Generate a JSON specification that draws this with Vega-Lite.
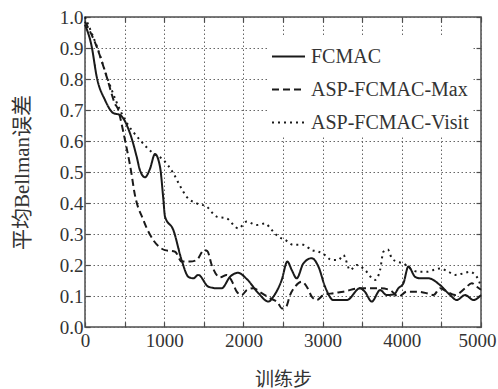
{
  "$schema": "https://vega.github.io/schema/vega-lite/v6.json",
  "width": 396,
  "height": 310,
  "autosize": {"type": "none"},
  "padding": {"left": 85, "top": 17, "right": 17, "bottom": 62},
  "background": "white",
  "config": {
    "view": {"stroke": "#4d4d4d", "strokeWidth": 1.5},
    "font": "Liberation Serif"
  },
  "datasets": {
    "curves": [
      {"series": "FCMAC", "step": 0, "err": 0.975},
      {"series": "FCMAC", "step": 85, "err": 0.904},
      {"series": "FCMAC", "step": 148, "err": 0.807},
      {"series": "FCMAC", "step": 253, "err": 0.732},
      {"series": "FCMAC", "step": 358, "err": 0.69},
      {"series": "FCMAC", "step": 442, "err": 0.684},
      {"series": "FCMAC", "step": 568, "err": 0.625},
      {"series": "FCMAC", "step": 653, "err": 0.549},
      {"series": "FCMAC", "step": 695, "err": 0.505},
      {"series": "FCMAC", "step": 758, "err": 0.483},
      {"series": "FCMAC", "step": 820, "err": 0.51},
      {"series": "FCMAC", "step": 884, "err": 0.558},
      {"series": "FCMAC", "step": 947, "err": 0.517},
      {"series": "FCMAC", "step": 990, "err": 0.41},
      {"series": "FCMAC", "step": 1010, "err": 0.356},
      {"series": "FCMAC", "step": 1115, "err": 0.313},
      {"series": "FCMAC", "step": 1220, "err": 0.216},
      {"series": "FCMAC", "step": 1305, "err": 0.162},
      {"series": "FCMAC", "step": 1368, "err": 0.157},
      {"series": "FCMAC", "step": 1431, "err": 0.168},
      {"series": "FCMAC", "step": 1558, "err": 0.13},
      {"series": "FCMAC", "step": 1663, "err": 0.125},
      {"series": "FCMAC", "step": 1726, "err": 0.125},
      {"series": "FCMAC", "step": 1831, "err": 0.162},
      {"series": "FCMAC", "step": 1930, "err": 0.175},
      {"series": "FCMAC", "step": 2042, "err": 0.155},
      {"series": "FCMAC", "step": 2189, "err": 0.109},
      {"series": "FCMAC", "step": 2315, "err": 0.082},
      {"series": "FCMAC", "step": 2378, "err": 0.098},
      {"series": "FCMAC", "step": 2484, "err": 0.152},
      {"series": "FCMAC", "step": 2555, "err": 0.211},
      {"series": "FCMAC", "step": 2610, "err": 0.184},
      {"series": "FCMAC", "step": 2673, "err": 0.157},
      {"series": "FCMAC", "step": 2757, "err": 0.205},
      {"series": "FCMAC", "step": 2863, "err": 0.222},
      {"series": "FCMAC", "step": 2947, "err": 0.195},
      {"series": "FCMAC", "step": 3031, "err": 0.13},
      {"series": "FCMAC", "step": 3136, "err": 0.087},
      {"series": "FCMAC", "step": 3305, "err": 0.087},
      {"series": "FCMAC", "step": 3473, "err": 0.125},
      {"series": "FCMAC", "step": 3530, "err": 0.115},
      {"series": "FCMAC", "step": 3621, "err": 0.082},
      {"series": "FCMAC", "step": 3726, "err": 0.119},
      {"series": "FCMAC", "step": 3810, "err": 0.103},
      {"series": "FCMAC", "step": 3900, "err": 0.105},
      {"series": "FCMAC", "step": 3957, "err": 0.125},
      {"series": "FCMAC", "step": 4020, "err": 0.141},
      {"series": "FCMAC", "step": 4083, "err": 0.195},
      {"series": "FCMAC", "step": 4168, "err": 0.162},
      {"series": "FCMAC", "step": 4231, "err": 0.157},
      {"series": "FCMAC", "step": 4336, "err": 0.157},
      {"series": "FCMAC", "step": 4484, "err": 0.135},
      {"series": "FCMAC", "step": 4610, "err": 0.103},
      {"series": "FCMAC", "step": 4694, "err": 0.087},
      {"series": "FCMAC", "step": 4799, "err": 0.103},
      {"series": "FCMAC", "step": 4905, "err": 0.087},
      {"series": "FCMAC", "step": 5000, "err": 0.103},

      {"series": "ASP-FCMAC-Max", "step": 0, "err": 0.985},
      {"series": "ASP-FCMAC-Max", "step": 148, "err": 0.904},
      {"series": "ASP-FCMAC-Max", "step": 274, "err": 0.807},
      {"series": "ASP-FCMAC-Max", "step": 379, "err": 0.72},
      {"series": "ASP-FCMAC-Max", "step": 421, "err": 0.7},
      {"series": "ASP-FCMAC-Max", "step": 442, "err": 0.678},
      {"series": "ASP-FCMAC-Max", "step": 505, "err": 0.603},
      {"series": "ASP-FCMAC-Max", "step": 590, "err": 0.49},
      {"series": "ASP-FCMAC-Max", "step": 620, "err": 0.44},
      {"series": "ASP-FCMAC-Max", "step": 737, "err": 0.345},
      {"series": "ASP-FCMAC-Max", "step": 863, "err": 0.28},
      {"series": "ASP-FCMAC-Max", "step": 1010, "err": 0.248},
      {"series": "ASP-FCMAC-Max", "step": 1137, "err": 0.243},
      {"series": "ASP-FCMAC-Max", "step": 1221, "err": 0.211},
      {"series": "ASP-FCMAC-Max", "step": 1326, "err": 0.211},
      {"series": "ASP-FCMAC-Max", "step": 1410, "err": 0.216},
      {"series": "ASP-FCMAC-Max", "step": 1503, "err": 0.248},
      {"series": "ASP-FCMAC-Max", "step": 1545, "err": 0.245},
      {"series": "ASP-FCMAC-Max", "step": 1600, "err": 0.2},
      {"series": "ASP-FCMAC-Max", "step": 1705, "err": 0.16},
      {"series": "ASP-FCMAC-Max", "step": 1790, "err": 0.168},
      {"series": "ASP-FCMAC-Max", "step": 1850, "err": 0.15},
      {"series": "ASP-FCMAC-Max", "step": 1916, "err": 0.114},
      {"series": "ASP-FCMAC-Max", "step": 1979, "err": 0.103},
      {"series": "ASP-FCMAC-Max", "step": 2042, "err": 0.119},
      {"series": "ASP-FCMAC-Max", "step": 2126, "err": 0.125},
      {"series": "ASP-FCMAC-Max", "step": 2231, "err": 0.109},
      {"series": "ASP-FCMAC-Max", "step": 2336, "err": 0.093},
      {"series": "ASP-FCMAC-Max", "step": 2442, "err": 0.076},
      {"series": "ASP-FCMAC-Max", "step": 2484, "err": 0.06},
      {"series": "ASP-FCMAC-Max", "step": 2539, "err": 0.065},
      {"series": "ASP-FCMAC-Max", "step": 2589, "err": 0.103},
      {"series": "ASP-FCMAC-Max", "step": 2652, "err": 0.13},
      {"series": "ASP-FCMAC-Max", "step": 2736, "err": 0.146},
      {"series": "ASP-FCMAC-Max", "step": 2800, "err": 0.13},
      {"series": "ASP-FCMAC-Max", "step": 2863, "err": 0.098},
      {"series": "ASP-FCMAC-Max", "step": 2926, "err": 0.087},
      {"series": "ASP-FCMAC-Max", "step": 3010, "err": 0.103},
      {"series": "ASP-FCMAC-Max", "step": 3136, "err": 0.109},
      {"series": "ASP-FCMAC-Max", "step": 3262, "err": 0.114},
      {"series": "ASP-FCMAC-Max", "step": 3473, "err": 0.125},
      {"series": "ASP-FCMAC-Max", "step": 3726, "err": 0.125},
      {"series": "ASP-FCMAC-Max", "step": 3852, "err": 0.119},
      {"series": "ASP-FCMAC-Max", "step": 3957, "err": 0.098},
      {"series": "ASP-FCMAC-Max", "step": 4063, "err": 0.114},
      {"series": "ASP-FCMAC-Max", "step": 4189, "err": 0.114},
      {"series": "ASP-FCMAC-Max", "step": 4315, "err": 0.109},
      {"series": "ASP-FCMAC-Max", "step": 4400, "err": 0.103},
      {"series": "ASP-FCMAC-Max", "step": 4484, "err": 0.125},
      {"series": "ASP-FCMAC-Max", "step": 4568, "err": 0.114},
      {"series": "ASP-FCMAC-Max", "step": 4673, "err": 0.103},
      {"series": "ASP-FCMAC-Max", "step": 4799, "err": 0.125},
      {"series": "ASP-FCMAC-Max", "step": 4884, "err": 0.141},
      {"series": "ASP-FCMAC-Max", "step": 4947, "err": 0.13},
      {"series": "ASP-FCMAC-Max", "step": 5000, "err": 0.12},

      {"series": "ASP-FCMAC-Visit", "step": 0, "err": 1.0},
      {"series": "ASP-FCMAC-Visit", "step": 150, "err": 0.905},
      {"series": "ASP-FCMAC-Visit", "step": 300, "err": 0.79},
      {"series": "ASP-FCMAC-Visit", "step": 484, "err": 0.678},
      {"series": "ASP-FCMAC-Visit", "step": 695, "err": 0.603},
      {"series": "ASP-FCMAC-Visit", "step": 863, "err": 0.56},
      {"series": "ASP-FCMAC-Visit", "step": 990, "err": 0.539},
      {"series": "ASP-FCMAC-Visit", "step": 1115, "err": 0.496},
      {"series": "ASP-FCMAC-Visit", "step": 1200, "err": 0.455},
      {"series": "ASP-FCMAC-Visit", "step": 1284, "err": 0.42},
      {"series": "ASP-FCMAC-Visit", "step": 1410, "err": 0.399},
      {"series": "ASP-FCMAC-Visit", "step": 1537, "err": 0.388},
      {"series": "ASP-FCMAC-Visit", "step": 1663, "err": 0.356},
      {"series": "ASP-FCMAC-Visit", "step": 1790, "err": 0.35},
      {"series": "ASP-FCMAC-Visit", "step": 1937, "err": 0.318},
      {"series": "ASP-FCMAC-Visit", "step": 2042, "err": 0.34},
      {"series": "ASP-FCMAC-Visit", "step": 2168, "err": 0.329},
      {"series": "ASP-FCMAC-Visit", "step": 2273, "err": 0.334},
      {"series": "ASP-FCMAC-Visit", "step": 2358, "err": 0.313},
      {"series": "ASP-FCMAC-Visit", "step": 2442, "err": 0.291},
      {"series": "ASP-FCMAC-Visit", "step": 2526, "err": 0.281},
      {"series": "ASP-FCMAC-Visit", "step": 2631, "err": 0.265},
      {"series": "ASP-FCMAC-Visit", "step": 2757, "err": 0.265},
      {"series": "ASP-FCMAC-Visit", "step": 2863, "err": 0.248},
      {"series": "ASP-FCMAC-Visit", "step": 2947, "err": 0.243},
      {"series": "ASP-FCMAC-Visit", "step": 3031, "err": 0.232},
      {"series": "ASP-FCMAC-Visit", "step": 3115, "err": 0.216},
      {"series": "ASP-FCMAC-Visit", "step": 3200, "err": 0.216},
      {"series": "ASP-FCMAC-Visit", "step": 3262, "err": 0.232},
      {"series": "ASP-FCMAC-Visit", "step": 3347, "err": 0.184},
      {"series": "ASP-FCMAC-Visit", "step": 3431, "err": 0.2},
      {"series": "ASP-FCMAC-Visit", "step": 3515, "err": 0.189},
      {"series": "ASP-FCMAC-Visit", "step": 3663, "err": 0.152},
      {"series": "ASP-FCMAC-Visit", "step": 3726, "err": 0.184},
      {"series": "ASP-FCMAC-Visit", "step": 3768, "err": 0.243},
      {"series": "ASP-FCMAC-Visit", "step": 3823, "err": 0.25},
      {"series": "ASP-FCMAC-Visit", "step": 3873, "err": 0.222},
      {"series": "ASP-FCMAC-Visit", "step": 3936, "err": 0.211},
      {"series": "ASP-FCMAC-Visit", "step": 4020, "err": 0.205},
      {"series": "ASP-FCMAC-Visit", "step": 4105, "err": 0.189},
      {"series": "ASP-FCMAC-Visit", "step": 4210, "err": 0.178},
      {"series": "ASP-FCMAC-Visit", "step": 4315, "err": 0.178},
      {"series": "ASP-FCMAC-Visit", "step": 4400, "err": 0.184},
      {"series": "ASP-FCMAC-Visit", "step": 4484, "err": 0.189},
      {"series": "ASP-FCMAC-Visit", "step": 4589, "err": 0.178},
      {"series": "ASP-FCMAC-Visit", "step": 4673, "err": 0.168},
      {"series": "ASP-FCMAC-Visit", "step": 4778, "err": 0.173},
      {"series": "ASP-FCMAC-Visit", "step": 4863, "err": 0.178},
      {"series": "ASP-FCMAC-Visit", "step": 4926, "err": 0.168},
      {"series": "ASP-FCMAC-Visit", "step": 4968, "err": 0.152},
      {"series": "ASP-FCMAC-Visit", "step": 5000, "err": 0.13}
    ]
  },
  "data": {"name": "curves"},
  "layer": [
    {
      "mark": {"type": "point", "opacity": 0},
      "encoding": {
        "x": {
          "field": "step", "type": "quantitative",
          "scale": {"domain": [0, 5000], "nice": false},
          "axis": {
            "orient": "top", "values": [0, 500, 1000, 1500, 2000, 2500, 3000, 3500, 4000, 4500, 5000],
            "labels": false, "title": null, "domain": false, "grid": false,
            "tickSize": -5, "tickColor": "#4d4d4d", "tickWidth": 1.2
          }
        },
        "y": {
          "field": "err", "type": "quantitative",
          "scale": {"domain": [0, 1], "nice": false},
          "axis": {
            "orient": "right", "values": [0, 0.1, 0.2, 0.3, 0.4, 0.5, 0.6, 0.7, 0.8, 0.9, 1.0],
            "labels": false, "title": null, "domain": false, "grid": false,
            "tickSize": -5, "tickColor": "#4d4d4d", "tickWidth": 1.2
          }
        }
      }
    },
    {
      "mark": {"type": "line", "interpolate": "monotone", "strokeWidth": 2, "stroke": "#1a1a1a"},
      "encoding": {
        "x": {
          "field": "step", "type": "quantitative",
          "scale": {"domain": [0, 5000], "nice": false},
          "axis": {
            "orient": "bottom", "values": [0, 500, 1000, 1500, 2000, 2500, 3000, 3500, 4000, 4500, 5000],
            "format": "d",
            "labelExpr": "datum.value % 1000 === 0 ? datum.label : ''",
            "labelFlush": false, "labelOverlap": false,
            "labelOffset": {"condition": {"test": "datum.value === 5000", "value": -4}, "value": 0},
            "labelFont": "Liberation Serif", "labelFontSize": 19, "labelColor": "#333333", "labelPadding": 9,
            "title": "训练步", "titleFont": "Noto Sans CJK SC", "titleFontSize": 19, "titleFontWeight": "normal",
            "titleColor": "#333333", "titleY": 52, "titleBaseline": "middle",
            "domain": false, "tickSize": -5, "tickColor": "#4d4d4d", "tickWidth": 1.2,
            "grid": true, "gridDash": [1.5, 2.5], "gridColor": "#666666", "gridWidth": 1
          }
        },
        "y": {
          "field": "err", "type": "quantitative",
          "scale": {"domain": [0, 1], "nice": false},
          "axis": {
            "orient": "left", "values": [0, 0.1, 0.2, 0.3, 0.4, 0.5, 0.6, 0.7, 0.8, 0.9, 1.0],
            "format": ".1f", "labelFlush": false, "labelOverlap": false,
            "labelFont": "Liberation Serif", "labelFontSize": 19, "labelColor": "#333333", "labelPadding": 7,
            "title": "平均Bellman误差", "titleFont": "Liberation Serif, Noto Sans CJK SC", "titleFontSize": 21, "titleFontWeight": "normal",
            "titleColor": "#333333", "titleX": -63, "titleY": 155, "titleAngle": -90, "titleAlign": "center", "titleBaseline": "middle",
            "domain": false, "tickSize": -5, "tickColor": "#4d4d4d", "tickWidth": 1.2,
            "grid": true, "gridDash": [1.5, 2.5], "gridColor": "#666666", "gridWidth": 1
          }
        },
        "strokeDash": {
          "field": "series", "type": "nominal",
          "scale": {
            "domain": ["FCMAC", "ASP-FCMAC-Max", "ASP-FCMAC-Visit"],
            "range": [[1, 0], [7, 4], [2, 4]]
          },
          "legend": {
            "orient": "none", "legendX": 183, "legendY": 19, "title": null,
            "symbolType": "stroke", "symbolSize": 1089, "symbolStrokeWidth": 2, "symbolStrokeColor": "#1a1a1a",
            "labelFont": "Liberation Serif", "labelFontSize": 20, "labelColor": "#333333", "labelOffset": 5,
            "rowPadding": 5, "fillColor": "white", "padding": 3
          }
        }
      }
    }
  ],
  "resolve": {"axis": {"x": "independent", "y": "independent"}}
}
